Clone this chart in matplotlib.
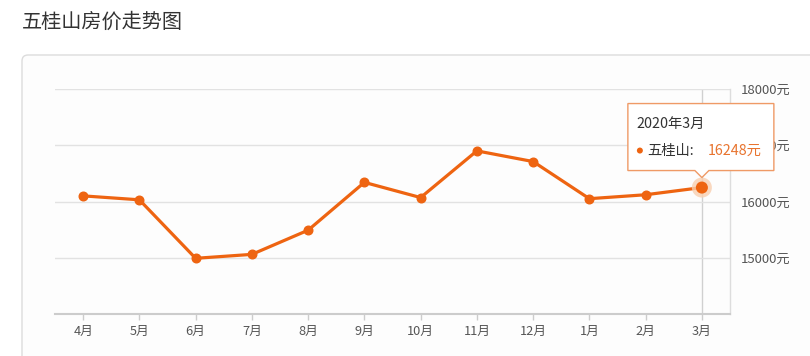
import matplotlib.pyplot as plt
from matplotlib.patches import FancyBboxPatch, Polygon, Circle
from matplotlib.transforms import Affine2D, IdentityTransform

plt.rcParams['font.family'] = ['Noto Sans CJK SC', 'DejaVu Sans']

title = "五桂山房价走势图"
months = ["4月", "5月", "6月", "7月", "8月", "9月", "10月", "11月", "12月", "1月", "2月", "3月"]
prices = [16100, 16030, 14990, 15060, 15490, 16340, 16070, 16900, 16710, 16050, 16120, 16248]
y_ticks = [15000, 16000, 17000, 18000]
tip_title = "2020年3月"
series_name = "五桂山"

orange = "#ee6411"
W, H = 810, 356

fig = plt.figure(figsize=(W / 100, H / 100), dpi=100)

# card border, kept behind the axes
card = FancyBboxPatch((22, -20), 820, H - 55 + 20,
                      boxstyle="round,pad=0,rounding_size=6",
                      transform=IdentityTransform(), facecolor="#fdfdfd",
                      edgecolor="#dcdcdc", lw=1, zorder=-5)
fig.patches.append(card)

fig.text(22 / W, 1 - 22 / H, title, fontsize=14.5, color="#333333", va="center", ha="left")

ax = fig.add_axes([55 / W, 42 / H, (730 - 55) / W, (314 - 89) / H])
ax.set_facecolor("none")

ax.plot(months, prices, color=orange, lw=2.3, marker="o", ms=6.2, zorder=3)
ax.set_xlim(-0.5, len(months) - 0.5)
ax.set_ylim(14000, 18000)

ax.yaxis.tick_right()
ax.set_yticks(y_ticks)
ax.set_yticklabels([f"{v}元" for v in y_ticks])
ax.tick_params(axis="y", length=0, pad=8, labelsize=9.5, labelcolor="#555555")
ax.tick_params(axis="x", length=4, width=1, color="#cccccc", pad=4,
               labelsize=9.2, labelcolor="#555555")
ax.grid(axis="y", color="#e2e2e2", lw=1)
for s in ["left", "top"]:
    ax.spines[s].set_visible(False)
ax.spines["bottom"].set_color("#cccccc")
ax.spines["bottom"].set_linewidth(1.5)
ax.spines["right"].set_color("#dddddd")
ax.spines["right"].set_linewidth(1)

# crosshair on the hovered point
last = len(months) - 1
ax.axvline(last, color="#d0d0d0", lw=1, zorder=1)

# tooltip anchored at last point (pixel offsets)
fig.canvas.draw()
px, py = ax.transData.transform((last, prices[-1]))
off = Affine2D().translate(px, py)

ax.add_patch(Circle((0, 0), 10, transform=off, facecolor="#f9cfb0", edgecolor="none", alpha=0.8, zorder=4))
ax.add_patch(Circle((0, 0), 6, transform=off, facecolor=orange, edgecolor="none", zorder=5))

box = [(-74, 84), (72, 84), (72, 17), (7, 17), (0, 10), (-7, 17), (-74, 17)]
ax.add_patch(Polygon(box, closed=True, transform=off, facecolor="white",
                     edgecolor="#ef9a66", lw=1, zorder=6, clip_on=False))
ax.text(-65, 64, tip_title, transform=off, fontsize=10.3, color="#333333",
        va="center", ha="left", zorder=7)
ax.add_patch(Circle((-62, 37), 3, transform=off, facecolor=orange,
                    edgecolor="none", zorder=7, clip_on=False))
ax.text(-55, 37, series_name + ":", transform=off, fontsize=10.3, color="#333333",
        va="center", ha="left", zorder=7)
ax.text(6, 37, f"{prices[-1]}元", transform=off, fontsize=10.3, color="#e8742f",
        va="center", ha="left", zorder=7)

fig.savefig("out.png", dpi=100)
